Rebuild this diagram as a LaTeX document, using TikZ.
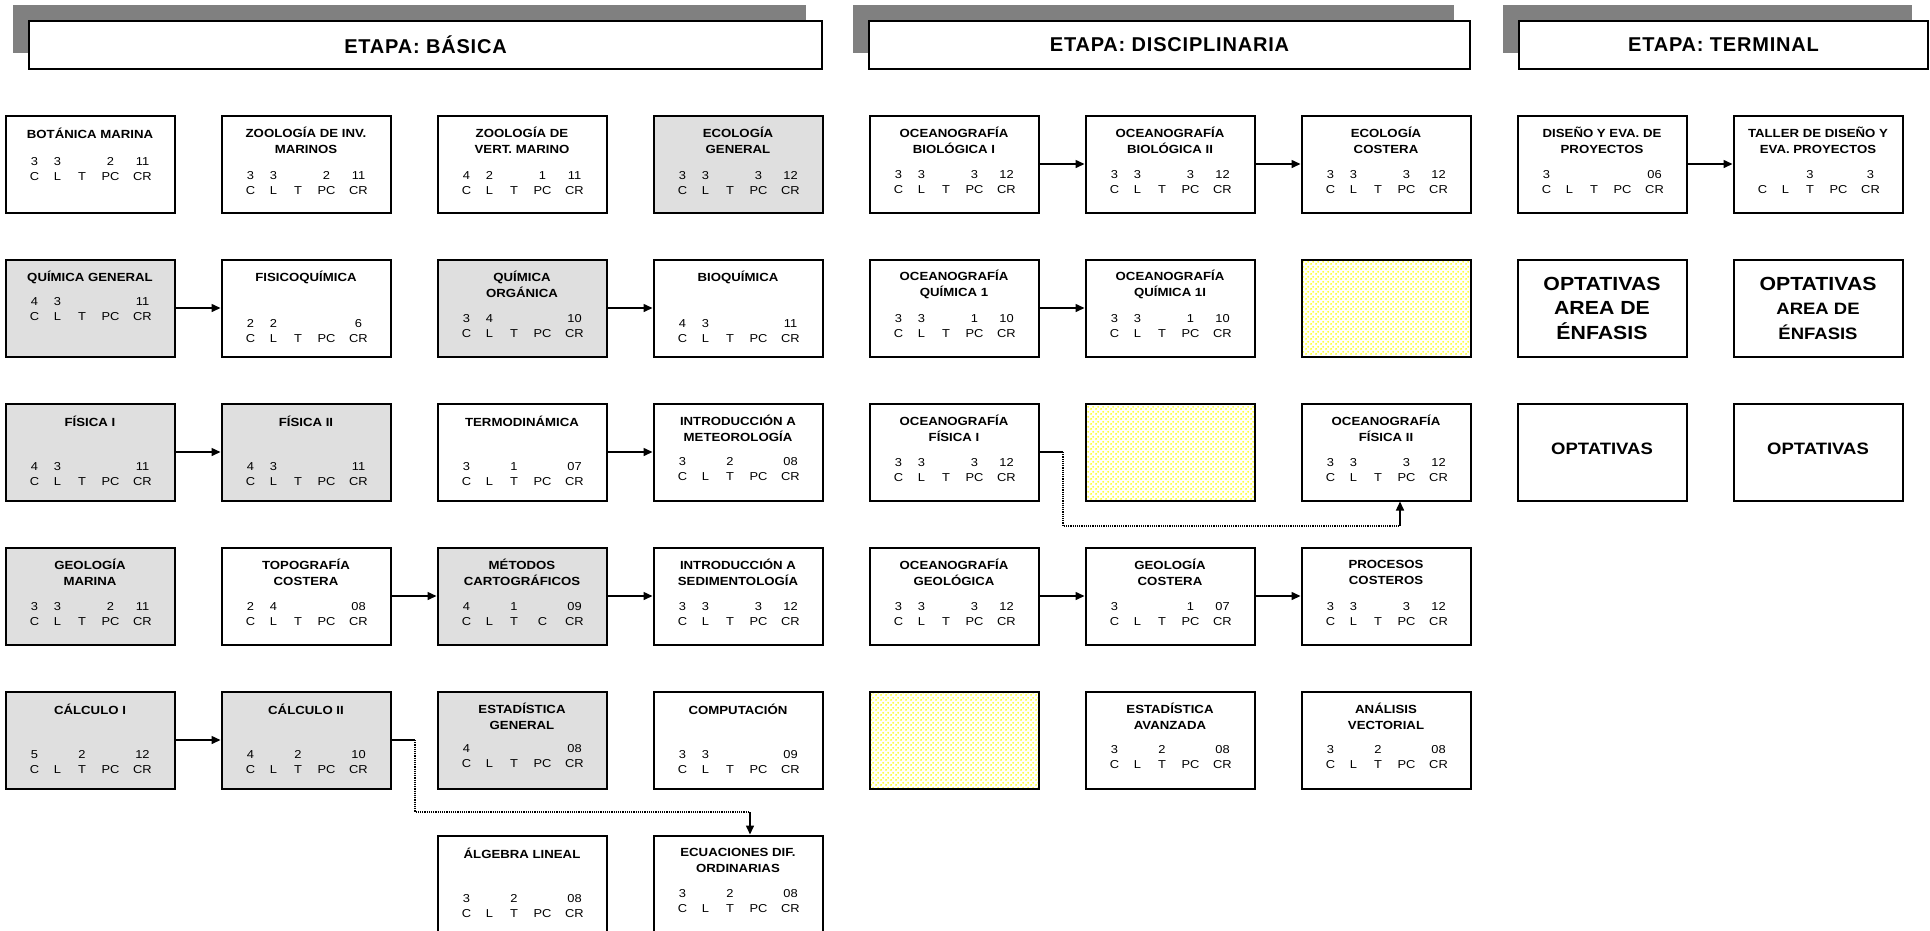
\documentclass[tikz,border=0pt]{standalone}
\usepackage{fontspec}
\setmainfont{Liberation Sans}[FakeStretch=1.12]
\newfontfamily\stagefont{Liberation Sans}[LetterSpace=4]
\usepackage{array}
\usetikzlibrary{calc, positioning, arrows.meta, patterns.meta, shadows}

\newcolumntype{M}[1]{>{\centering\arraybackslash}p{#1}}
\newcommand{\credits}[2][C & L & T & PC & CR]{%
  {\setlength{\tabcolsep}{0pt}%
  \begin{tabular}{M{22pt}M{24pt}M{25pt}M{32pt}M{32pt}}#2\\#1\end{tabular}}}

% yellow dotted fill of the empty slots
\tikzdeclarepattern{
  name=yellowdots,
  type=uncolored,
  bottom left={(0pt,0pt)},
  top right={(5pt,5pt)},
  tile size={(5pt,5pt)},
  code={\fill (1.25pt,1.25pt) circle (1.1pt); \fill (3.75pt,3.75pt) circle (1.1pt);}
}

\begin{document}
\begin{tikzpicture}[x=1pt, y=-1pt,
  course/.style={draw, line width=2pt, minimum width=169pt, minimum height=97pt, inner sep=0pt},
  core/.style={course, fill=gray!25},
  vacant/.style={course, pattern=yellowdots, pattern color=yellow},
  ctitle/.style={font=\bfseries\fontsize{11.8}{16}\selectfont, align=center, inner sep=0pt},
  cdata/.style={font=\fontsize{11.5}{15}\selectfont, inner sep=0pt},
  optative/.style={course, font=\bfseries\fontsize{19}{24.5}\selectfont, align=center},
  stage/.style={draw, line width=1.5pt, fill=white, minimum height=48pt,
    font=\stagefont\bfseries\fontsize{20}{22}\selectfont,
    drop shadow={shadow xshift=-16pt, shadow yshift=16pt, opacity=1, fill=gray}},
  conn/.style={-{Triangle[length=9pt,width=8pt]}, line width=1.5pt},
  link/.style={densely dotted, line width=1.2pt}]
\useasboundingbox (0,0) rectangle (1930,930);
\clip (0,0) rectangle (1930,930);

% Stages
\node[stage, minimum width=793pt] (basica) at (425.5,45) {ETAPA: BÁSICA};
\node[stage, minimum width=601pt] (disciplinaria) at (1169.5,45) {ETAPA: DISCIPLINARIA};
\node[stage, minimum width=409pt] (terminal) at (1723.5,45) {ETAPA: TERMINAL};

% Row 1
\node[course] (botanica) at (90,164) {};
\node[ctitle] at ([yshift=-19]botanica.north) {BOTÁNICA MARINA};
\node[cdata] at ([xshift=1,yshift=-55]botanica.north) {\credits{3 & 3 & & 2 & 11}};
\node[course] (zooinv) at (306,164) {};
\node[ctitle] at ([yshift=-26]zooinv.north) {ZOOLOGÍA DE INV.\\MARINOS};
\node[cdata] at ([xshift=1,yshift=-69]zooinv.north) {\credits{3 & 3 & & 2 & 11}};
\node[course] (zoovert) at (522,164) {};
\node[ctitle] at ([yshift=-26]zoovert.north) {ZOOLOGÍA DE\\VERT. MARINO};
\node[cdata] at ([xshift=1,yshift=-69]zoovert.north) {\credits{4 & 2 & & 1 & 11}};
\node[core] (ecogen) at (738,164) {};
\node[ctitle] at ([yshift=-26]ecogen.north) {ECOLOGÍA\\GENERAL};
\node[cdata] at ([xshift=1,yshift=-69]ecogen.north) {\credits{3 & 3 & & 3 & 12}};
\node[course] (ocbioI) at (954,164) {};
\node[ctitle] at ([yshift=-26]ocbioI.north) {OCEANOGRAFÍA\\BIOLÓGICA I};
\node[cdata] at ([xshift=1,yshift=-68]ocbioI.north) {\credits{3 & 3 & & 3 & 12}};
\node[course] (ocbioII) at (1170,164) {};
\node[ctitle] at ([yshift=-26]ocbioII.north) {OCEANOGRAFÍA\\BIOLÓGICA II};
\node[cdata] at ([xshift=1,yshift=-68]ocbioII.north) {\credits{3 & 3 & & 3 & 12}};
\node[course] (ecocost) at (1386,164) {};
\node[ctitle] at ([yshift=-26]ecocost.north) {ECOLOGÍA\\COSTERA};
\node[cdata] at ([xshift=1,yshift=-68]ecocost.north) {\credits{3 & 3 & & 3 & 12}};
\node[course] (diseno) at (1602,164) {};
\node[ctitle] at ([yshift=-26]diseno.north) {DISEÑO Y EVA. DE\\PROYECTOS};
\node[cdata] at ([xshift=1,yshift=-68]diseno.north) {\credits{3 & & & & 06}};
\node[course] (taller) at (1818,164) {};
\node[ctitle] at ([yshift=-26]taller.north) {TALLER DE DISEÑO Y\\EVA. PROYECTOS};
\node[cdata] at ([xshift=1,yshift=-68]taller.north) {\credits{ & & 3 & & 3}};

% Row 2
\node[core] (quimgen) at (90,308) {};
\node[ctitle] at ([yshift=-19]quimgen.north) {QUÍMICA GENERAL};
\node[cdata] at ([xshift=1,yshift=-51]quimgen.north) {\credits{4 & 3 & & & 11}};
\node[course] (fisicoq) at (306,308) {};
\node[ctitle] at ([yshift=-19]fisicoq.north) {FISICOQUÍMICA};
\node[cdata] at ([xshift=1,yshift=-73]fisicoq.north) {\credits{2 & 2 & & & 6}};
\node[core] (quimorg) at (522,308) {};
\node[ctitle] at ([yshift=-26]quimorg.north) {QUÍMICA\\ORGÁNICA};
\node[cdata] at ([xshift=1,yshift=-68]quimorg.north) {\credits{3 & 4 & & & 10}};
\node[course] (bioq) at (738,308) {};
\node[ctitle] at ([yshift=-19]bioq.north) {BIOQUÍMICA};
\node[cdata] at ([xshift=1,yshift=-73]bioq.north) {\credits{4 & 3 & & & 11}};
\node[course] (ocquimI) at (954,308) {};
\node[ctitle] at ([yshift=-26]ocquimI.north) {OCEANOGRAFÍA\\QUÍMICA 1};
\node[cdata] at ([xshift=1,yshift=-68]ocquimI.north) {\credits{3 & 3 & & 1 & 10}};
\node[course] (ocquimII) at (1170,308) {};
\node[ctitle] at ([yshift=-26]ocquimII.north) {OCEANOGRAFÍA\\QUÍMICA 1I};
\node[cdata] at ([xshift=1,yshift=-68]ocquimII.north) {\credits{3 & 3 & & 1 & 10}};
\node[vacant] (vacioA) at (1386,308) {};
\node[optative] (optenfA) at (1602,308) {OPTATIVAS\\AREA DE\\ÉNFASIS};
\node[optative] (optenfB) at (1818,308) {OPTATIVAS\\{\fontsize{16.5}{24}\selectfont AREA DE}\\{\fontsize{16.5}{24}\selectfont ÉNFASIS}};

% Row 3
\node[core] (fisicaI) at (90,452) {};
\node[ctitle] at ([yshift=-19]fisicaI.north) {FÍSICA I};
\node[cdata] at ([xshift=1,yshift=-72]fisicaI.north) {\credits{4 & 3 & & & 11}};
\node[core] (fisicaII) at (306,452) {};
\node[ctitle] at ([yshift=-19]fisicaII.north) {FÍSICA II};
\node[cdata] at ([xshift=1,yshift=-72]fisicaII.north) {\credits{4 & 3 & & & 11}};
\node[course] (termo) at (522,452) {};
\node[ctitle] at ([yshift=-19]termo.north) {TERMODINÁMICA};
\node[cdata] at ([xshift=1,yshift=-72]termo.north) {\credits{3 & & 1 & & 07}};
\node[course] (meteo) at (738,452) {};
\node[ctitle] at ([yshift=-26]meteo.north) {INTRODUCCIÓN A\\METEOROLOGÍA};
\node[cdata] at ([xshift=1,yshift=-67]meteo.north) {\credits{3 & & 2 & & 08}};
\node[course] (ocfisI) at (954,452) {};
\node[ctitle] at ([yshift=-26]ocfisI.north) {OCEANOGRAFÍA\\FÍSICA I};
\node[cdata] at ([xshift=1,yshift=-68]ocfisI.north) {\credits{3 & 3 & & 3 & 12}};
\node[vacant] (vacioB) at (1170,452) {};
\node[course] (ocfisII) at (1386,452) {};
\node[ctitle] at ([yshift=-26]ocfisII.north) {OCEANOGRAFÍA\\FÍSICA II};
\node[cdata] at ([xshift=1,yshift=-68]ocfisII.north) {\credits{3 & 3 & & 3 & 12}};
\node[optative, font=\bfseries\fontsize{16.5}{20}\selectfont, text depth=6pt] (optC) at (1602,452) {OPTATIVAS};
\node[optative, font=\bfseries\fontsize{16.5}{20}\selectfont, text depth=6pt] (optD) at (1818,452) {OPTATIVAS};

% Row 4
\node[core] (geomar) at (90,596) {};
\node[ctitle] at ([yshift=-26]geomar.north) {GEOLOGÍA\\MARINA};
\node[cdata] at ([xshift=1,yshift=-68]geomar.north) {\credits{3 & 3 & & 2 & 11}};
\node[course] (topo) at (306,596) {};
\node[ctitle] at ([yshift=-26]topo.north) {TOPOGRAFÍA\\COSTERA};
\node[cdata] at ([xshift=1,yshift=-68]topo.north) {\credits{2 & 4 & & & 08}};
\node[core] (metodos) at (522,596) {};
\node[ctitle] at ([yshift=-26]metodos.north) {MÉTODOS\\CARTOGRÁFICOS};
\node[cdata] at ([xshift=1,yshift=-68]metodos.north) {\credits[C & L & T & C & CR]{4 & & 1 & & 09}};
\node[course] (sedim) at (738,596) {};
\node[ctitle] at ([yshift=-26]sedim.north) {INTRODUCCIÓN A\\SEDIMENTOLOGÍA};
\node[cdata] at ([xshift=1,yshift=-68]sedim.north) {\credits{3 & 3 & & 3 & 12}};
\node[course] (ocgeo) at (954,596) {};
\node[ctitle] at ([yshift=-26]ocgeo.north) {OCEANOGRAFÍA\\GEOLÓGICA};
\node[cdata] at ([xshift=1,yshift=-68]ocgeo.north) {\credits{3 & 3 & & 3 & 12}};
\node[course] (geocost) at (1170,596) {};
\node[ctitle] at ([yshift=-26]geocost.north) {GEOLOGÍA\\COSTERA};
\node[cdata] at ([xshift=1,yshift=-68]geocost.north) {\credits{3 & & & 1 & 07}};
\node[course] (procesos) at (1386,596) {};
\node[ctitle] at ([yshift=-26]procesos.north) {PROCESOS\\COSTEROS};
\node[cdata] at ([xshift=1,yshift=-68]procesos.north) {\credits{3 & 3 & & 3 & 12}};

% Row 5
\node[core] (calcI) at (90,740) {};
\node[ctitle] at ([yshift=-19]calcI.north) {CÁLCULO I};
\node[cdata] at ([xshift=1,yshift=-72]calcI.north) {\credits{5 & & 2 & & 12}};
\node[core] (calcII) at (306,740) {};
\node[ctitle] at ([yshift=-19]calcII.north) {CÁLCULO II};
\node[cdata] at ([xshift=1,yshift=-72]calcII.north) {\credits{4 & & 2 & & 10}};
\node[core] (estgen) at (522,740) {};
\node[ctitle] at ([yshift=-26]estgen.north) {ESTADÍSTICA\\GENERAL};
\node[cdata] at ([xshift=1,yshift=-66]estgen.north) {\credits{4 & & & & 08}};
\node[course] (compu) at (738,740) {};
\node[ctitle] at ([yshift=-19]compu.north) {COMPUTACIÓN};
\node[cdata] at ([xshift=1,yshift=-72]compu.north) {\credits{3 & 3 & & & 09}};
\node[vacant] (vacioC) at (954,740) {};
\node[course] (estav) at (1170,740) {};
\node[ctitle] at ([yshift=-26]estav.north) {ESTADÍSTICA\\AVANZADA};
\node[cdata] at ([xshift=1,yshift=-67]estav.north) {\credits{3 & & 2 & & 08}};
\node[course] (analisis) at (1386,740) {};
\node[ctitle] at ([yshift=-26]analisis.north) {ANÁLISIS\\VECTORIAL};
\node[cdata] at ([xshift=1,yshift=-67]analisis.north) {\credits{3 & & 2 & & 08}};

% Row 6
\node[course] (algebra) at (522,884) {};
\node[ctitle] at ([yshift=-19]algebra.north) {ÁLGEBRA LINEAL};
\node[cdata] at ([xshift=1,yshift=-72]algebra.north) {\credits{3 & & 2 & & 08}};
\node[course] (ecuaciones) at (738,884) {};
\node[ctitle] at ([yshift=-26]ecuaciones.north) {ECUACIONES DIF.\\ORDINARIAS};
\node[cdata] at ([xshift=1,yshift=-67]ecuaciones.north) {\credits{3 & & 2 & & 08}};

% Seriation
\draw[conn] (quimgen) -- (fisicoq);
\draw[conn] (quimorg) -- (bioq);
\draw[conn] (fisicaI) -- (fisicaII);
\draw[conn] (termo) -- (meteo);
\draw[conn] (topo) -- (metodos);
\draw[conn] (metodos) -- (sedim);
\draw[conn] (calcI) -- (calcII);
\draw[conn] (ocbioI) -- (ocbioII);
\draw[conn] (ocbioII) -- (ecocost);
\draw[conn] (diseno) -- (taller);
\draw[conn] (ocquimI) -- (ocquimII);
\draw[conn] (ocgeo) -- (geocost);
\draw[conn] (geocost) -- (procesos);

% Calculo II to Ecuaciones
\coordinate (calcbend) at (415,740);
\coordinate (calcdown) at (415,812);
\coordinate (calcturn) at (750,812);
\draw[line width=1.5pt] (calcII.east) -- (calcbend);
\draw[link] (calcbend) -- (calcdown) -- (calcturn);
\draw[conn] (calcturn) -- (calcturn |- ecuaciones.north);

% Oceanografia Fisica I to II
\coordinate (fisbend) at (1063,452);
\coordinate (fisdown) at (1063,526);
\coordinate (fisturn) at (1400,526);
\draw[line width=1.5pt] (ocfisI.east) -- (fisbend);
\draw[link] (fisbend) -- (fisdown) -- (fisturn);
\draw[conn] (fisturn) -- (fisturn |- ocfisII.south);
\end{tikzpicture}
\end{document}
